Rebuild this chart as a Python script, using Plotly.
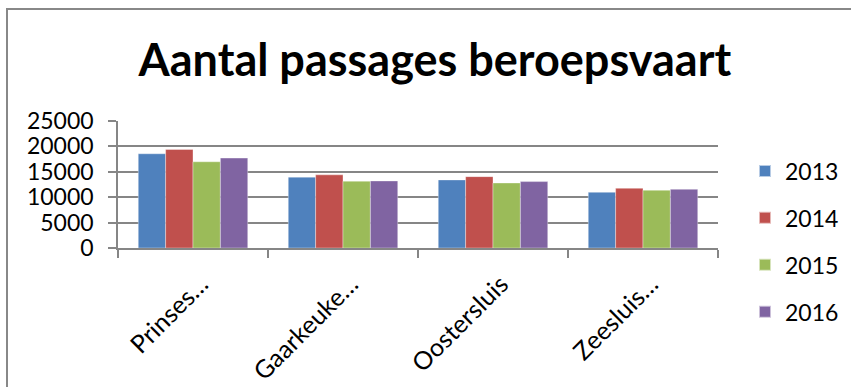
import plotly.graph_objects as go

categories = ["Prinses…", "Gaarkeuke…", "Oostersluis", "Zeesluis…"]
years = ["2013", "2014", "2015", "2016"]
values_2013 = [18550, 13950, 13400, 10970]
values_2014 = [19400, 14400, 14050, 11760]
values_2015 = [16970, 13150, 12800, 11370]
values_2016 = [17700, 13200, 13070, 11560]
y_ticks = [0, 5000, 10000, 15000, 20000, 25000]

colors = ["#4F81BD", "#C0504D", "#9BBB59", "#8064A2"]
series = [values_2013, values_2014, values_2015, values_2016]

FONT = "Lato"
fig = go.Figure()
for name, vals, c in zip(years, series, colors):
    fig.add_trace(go.Bar(x=categories, y=vals, name=name, legendgroup=name,
                         marker=dict(color=c, line=dict(width=0.6, color="rgba(255,255,255,0.6)"))))

fig.update_layout(
    width=851, height=387,
    paper_bgcolor="white", plot_bgcolor="white",
    margin=dict(l=118, r=133, t=121, b=139, autoexpand=False),
    barmode="group", bargap=0.27, bargroupgap=0,
    title=dict(text="<b>Aantal passages beroepsvaart</b>", x=0.511, xanchor="center",
               y=0.845, yanchor="middle",
               font=dict(family=FONT, size=45, color="black")),
    font=dict(family=FONT, color="black"),
    legend=dict(x=1.045, xanchor="left", yref="container", y=0.376, yanchor="middle",
                font=dict(size=23, family=FONT), itemsizing="constant",
                tracegroupgap=14, bgcolor="rgba(0,0,0,0)", borderwidth=0,
                maxheight=1.0),
    shapes=[dict(type="rect", xref="paper", yref="paper",
                 x0=-0.185, x1=1.3, y0=-1.2, y1=1.882,
                 line=dict(color="#888888", width=2), layer="below")],
)
fig.update_xaxes(showline=True, linecolor="#868686", linewidth=1.5,
                 ticks="outside", ticklen=8, tickcolor="#868686", tickwidth=1.5,
                 tickson="boundaries", tickangle=-45, automargin=False,
                 ticklabelstandoff=10, ticklabelshift=8,
                 tickfont=dict(size=25, family=FONT), showgrid=False)
fig.update_yaxes(range=[0, 25000], tickvals=y_ticks, ticktext=[str(v) for v in y_ticks],
                 showgrid=True, gridcolor="#868686", gridwidth=1.5,
                 showline=True, linecolor="#868686", linewidth=1.5,
                 ticks="outside", ticklen=8, tickcolor="#868686", tickwidth=1.5,
                 ticklabelstandoff=10, automargin=False,
                 tickfont=dict(size=23, family=FONT), zeroline=False)

fig.write_html("out.html")
